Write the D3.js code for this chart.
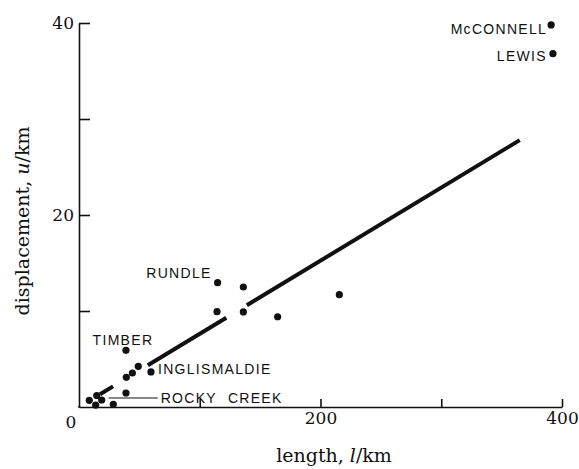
<!DOCTYPE html>
<html>
<head>
<meta charset="utf-8">
<script src="https://cdn.jsdelivr.net/npm/d3@7"></script>
<style>
  html, body { margin: 0; padding: 0; background: #fff; }
  .fault-label { font-family: "Liberation Sans", Arial, sans-serif; font-size: 14px; letter-spacing: 1.3px; fill: #111; }
  .serif { font-family: "DejaVu Serif", serif; fill: #111; }
</style>
</head>
<body>
<div id="chart"></div>
<script>
// fault length vs displacement (km)
const faultNames = ["McCONNELL", "LEWIS", "RUNDLE", "", "", "", "", "", "TIMBER", "", "", "", "INGLISMALDIE", "", "", "", "", "ROCKY CREEK", ""];
const lengthKm = [391, 392.5, 114.8, 136.1, 114.3, 136.1, 164.5, 215.6, 38.9, 49.1, 44.2, 39.2, 59.6, 38.9, 8.5, 13.8, 14.7, 18.8, 28.4];
const displacementKm = [39.8, 36.8, 12.95, 12.5, 9.93, 9.9, 9.4, 11.7, 5.9, 4.24, 3.54, 3.09, 3.65, 1.46, 0.7, 0.2, 1.2, 0.73, 0.28];

// fitted line, drawn in three pieces (gaps where it crosses the points)
const fitStartX = [17.4, 57, 139];
const fitStartY = [1.33, 4.35, 10.6];
const fitEndX = [28.2, 122, 365];
const fitEndY = [2.15, 9.3, 27.8];

const xTicks = [100, 200, 300, 400];
const xTickLabels = ["", "200", "", "400"];
const yTicks = [10, 20, 30, 40];
const yTickLabels = ["", "20", "", "40"];

const width = 579, height = 469;
const svg = d3.select("#chart").append("svg")
  .attr("width", width).attr("height", height);

const x = d3.scaleLinear().domain([0, 400]).range([79, 562]);
const y = d3.scaleLinear().domain([0, 40]).range([407, 23]);

// axes
const xAxis = svg.append("g")
  .attr("transform", `translate(0,${y(0)})`)
  .call(d3.axisBottom(x).tickValues(xTicks)
    .tickFormat((d, i) => xTickLabels[i])
    .tickSizeInner(-8).tickSizeOuter(0).tickPadding(5));
const yAxis = svg.append("g")
  .attr("transform", `translate(${x(0)},0)`)
  .call(d3.axisLeft(y).tickValues(yTicks)
    .tickFormat((d, i) => yTickLabels[i])
    .tickSizeInner(-11).tickSizeOuter(0).tickPadding(5));

[xAxis, yAxis].forEach(g => {
  g.selectAll("path, line").attr("stroke", "#111").attr("stroke-width", 1.6);
  g.selectAll("text").attr("class", "serif").attr("font-size", 17).style("font-size", "17px");
});
// x axis end point starts at the origin too
svg.append("line")
  .attr("x1", x(0) - 0.8).attr("x2", x(0) + 0.8)
  .attr("y1", y(0)).attr("y2", y(0))
  .attr("stroke", "#111").attr("stroke-width", 1.6);

svg.append("text").attr("class", "serif")
  .attr("x", x(0) - 8).attr("y", y(0) + 21)
  .attr("text-anchor", "middle").style("font-size", "17px")
  .text("0");

// axis titles
const xt = svg.append("text").attr("class", "serif")
  .attr("x", 334).attr("y", 462)
  .attr("text-anchor", "middle").style("font-size", "19px");
xt.append("tspan").text("length, ");
xt.append("tspan").attr("font-style", "italic").text("l");
xt.append("tspan").text("/km");

const yt = svg.append("text").attr("class", "serif")
  .attr("transform", "translate(29,221) rotate(-90)")
  .attr("text-anchor", "middle").style("font-size", "19px");
yt.append("tspan").text("displacement, ");
yt.append("tspan").attr("font-style", "italic").text("u");
yt.append("tspan").text("/km");

// fit line
svg.append("g").selectAll("line")
  .data(fitStartX)
  .join("line")
  .attr("x1", (d, i) => x(fitStartX[i]))
  .attr("y1", (d, i) => y(fitStartY[i]))
  .attr("x2", (d, i) => x(fitEndX[i]))
  .attr("y2", (d, i) => y(fitEndY[i]))
  .attr("stroke", "#111")
  .attr("stroke-width", 4);

// points
svg.append("g").selectAll("circle")
  .data(lengthKm)
  .join("circle")
  .attr("cx", (d) => x(d))
  .attr("cy", (d, i) => y(displacementKm[i]))
  .attr("r", 3.6)
  .attr("fill", "#111");

// labels, offsets in px from their point
const labelPlace = {
  "McCONNELL": { dx: -4, dy: 9, anchor: "end" },
  "LEWIS": { dx: -6, dy: 7, anchor: "end" },
  "RUNDLE": { dx: -6, dy: -4.5, anchor: "end" },
  "TIMBER": { dx: -3, dy: -5, anchor: "middle" },
  "INGLISMALDIE": { dx: 7, dy: 2.5, anchor: "start" },
  "ROCKY CREEK": { dx: 59, dy: 2.7, anchor: "start" },
};

faultNames.forEach((name, i) => {
  if (!name) return;
  const p = labelPlace[name];
  const px = x(lengthKm[i]), py = y(displacementKm[i]);
  svg.append("text")
    .attr("class", "fault-label")
    .attr("x", px + p.dx).attr("y", py + p.dy)
    .attr("text-anchor", p.anchor)
    .attr("word-spacing", name === "ROCKY CREEK" ? 6 : 0)
    .text(name);
  if (name === "ROCKY CREEK") {
    svg.append("line")
      .attr("x1", px + 7).attr("x2", px + p.dx - 3)
      .attr("y1", py - 2).attr("y2", py - 2)
      .attr("stroke", "#111").attr("stroke-width", 1);
  }
});
</script>
</body>
</html>
